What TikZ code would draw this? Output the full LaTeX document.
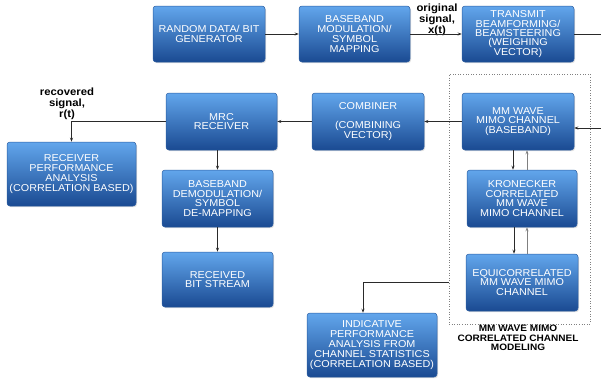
\documentclass[tikz,border=0pt]{standalone}
\usepackage{fontspec}
\setmainfont{Liberation Sans}[FakeStretch=1.08]
\usetikzlibrary{arrows.meta,shadows}
\definecolor{btop}{HTML}{62A6EC}
\definecolor{bbot}{HTML}{1A4A92}
\definecolor{bdraw}{HTML}{2A5CA0}
\definecolor{lnc}{HTML}{2A2A2A}
\begin{document}
\begin{tikzpicture}[x=1pt,y=-1pt,
 blk/.style={rectangle, rounded corners=3pt, draw=bdraw, line width=0.5pt,
   top color=btop, bottom color=bbot, text=white, align=center, inner sep=0pt,
   font=\fontsize{10}{9.8}\selectfont,
   drop shadow={shadow xshift=1pt,shadow yshift=-1.2pt,opacity=0.25}},
 conn/.style={draw=lnc, line width=0.7pt, -{Stealth[length=4pt,width=3pt]}},
 plain/.style={draw=lnc, line width=0.7pt},
 lbl/.style={font=\bfseries\fontsize{10.5}{11}\selectfont, align=center, inner sep=0pt}]
\useasboundingbox (0,0) rectangle (601,380);

\node[draw=gray, dotted, line width=0.6pt, minimum width=141pt, minimum height=250pt, inner sep=0pt] (grp) at (519.5,199) {};

\node[blk, minimum width=112pt, minimum height=56pt] (rnd) at (209,34) {RANDOM DATA/ BIT\\GENERATOR};
\node[blk, minimum width=111pt, minimum height=56pt] (mod) at (354.5,34) {BASEBAND\\MODULATION/\\SYMBOL\\MAPPING};
\node[blk, minimum width=112pt, minimum height=56pt, font=\fontsize{10}{9.4}\selectfont] (tx) at (518,34) {TRANSMIT\\BEAMFORMING/\\BEAMSTEERING\\(WEIGHING\\VECTOR)};
\node[blk, minimum width=112pt, minimum height=57pt] (comb) at (368,121.5) {COMBINER\\[9pt](COMBINING\\VECTOR)};
\node[blk, minimum width=112pt, minimum height=57pt] (mm) at (518,121.5) {MM WAVE\\MIMO CHANNEL\\(BASEBAND)};
\node[blk, minimum width=111pt, minimum height=57pt] (mrc) at (221.5,121.5) {MRC\\RECEIVER};
\node[blk, minimum width=129pt, minimum height=64pt] (rpa) at (71.5,174) {RECEIVER\\PERFORMANCE\\ANALYSIS\\(CORRELATION BASED)};
\node[blk, minimum width=111pt, minimum height=57pt] (demod) at (217.5,198.5) {BASEBAND\\DEMODULATION/\\SYMBOL\\DE-MAPPING};
\node[blk, minimum width=111pt, minimum height=55pt] (rbs) at (217.5,279.5) {RECEIVED\\BIT STREAM};
\node[blk, minimum width=110pt, minimum height=57pt] (kron) at (522,198.5) {KRONECKER\\CORRELATED\\MM WAVE\\MIMO CHANNEL};
\node[blk, minimum width=112pt, minimum height=57pt] (equi) at (522,282.5) {EQUICORRELATED\\MM WAVE MIMO\\CHANNEL};
\node[blk, minimum width=130pt, minimum height=64pt] (ind) at (372,345) {INDICATIVE\\PERFORMANCE\\ANALYSIS FROM\\CHANNEL STATISTICS\\(CORRELATION BASED)};

\node[lbl] (osig) at (437,20) {original\\signal,\\x(t)};
\node[lbl] (rsig) at (67,104) {recovered\\signal,\\r(t)};
\node[lbl, font=\bfseries\fontsize{9.3}{9.5}\selectfont] (glbl) at (518,338) {MM WAVE MIMO\\CORRELATED CHANNEL\\MODELING};

\coordinate (txout) at (601,34);
\coordinate (mmin) at (601,128);

\draw[conn] (rnd) -- (mod);
\draw[conn] (mod) -- (tx);
\draw[plain] (tx.east) -- (txout);
\draw[conn] (mmin) -- (mm.east |- mmin);
\draw[conn] (mm) -- (comb);
\draw[conn] (comb) -- (mrc);
\draw[conn] (mrc.west) -- (rpa.north |- mrc.west) -- (rpa.north);
\draw[conn] (demod.north |- mrc.south) -- (demod.north);
\draw[conn] (demod) -- (rbs);
\draw[conn] ([xshift=-9pt]kron.north |- mm.south) -- ([xshift=-9pt]kron.north);
\draw[conn, draw=gray] ([xshift=5pt]kron.north) -- ([xshift=5pt]kron.north |- mm.south);
\draw[conn] ([xshift=-8pt]equi.north |- kron.south) -- ([xshift=-8pt]equi.north);
\draw[conn, draw=gray] ([xshift=5pt]equi.north) -- ([xshift=5pt]equi.north |- kron.south);
\draw[conn] (grp.west |- equi) -- ([xshift=-9pt]ind.north |- equi) -- ([xshift=-9pt]ind.north);
\end{tikzpicture}
\end{document}
